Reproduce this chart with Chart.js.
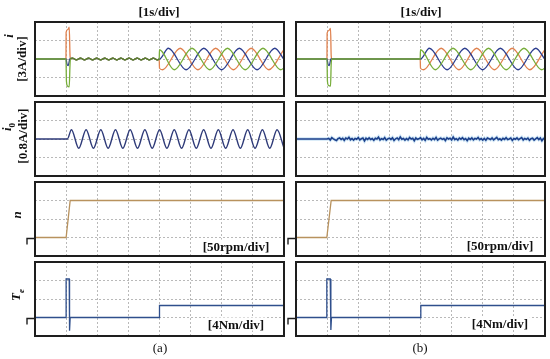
<!DOCTYPE html>
<html>
<head>
<meta charset="utf-8">
<script src="https://cdn.jsdelivr.net/npm/chart.js@4/dist/chart.umd.min.js"></script>
<style>
  body { margin: 0; background: #fff; width: 550px; height: 359px; position: relative; overflow: hidden;
         font-family: "Liberation Serif", "DejaVu Serif", serif; color: #111; }
  canvas { position: absolute; z-index: 1; }
  .lbl { position: absolute; z-index: 2; font-weight: bold; font-size: 13px; white-space: nowrap; transform: translate(-50%, -50%); }
  .rot { transform: translate(-50%, -50%) rotate(-90deg); }
  .cap { font-weight: normal; }
  .unit { background: #fff; padding: 0 2px; line-height: 13px; }
</style>
</head>
<body>
<div class="lbl" style="left:159px;top:12px">[1s/div]</div>
<div class="lbl" style="left:421px;top:12px">[1s/div]</div>

<div class="lbl rot" style="left:9px;top:36px"><i>i</i></div>
<div class="lbl rot" style="left:22px;top:59px">[3A/div]</div>
<div class="lbl rot" style="left:8px;top:127px"><i>i</i><sub style="font-size:9px">0</sub></div>
<div class="lbl rot" style="left:23px;top:136px">[0.8A/div]</div>
<div class="lbl rot" style="left:17px;top:215px"><i>n</i></div>
<div class="lbl rot" style="left:17px;top:295px"><i>T</i><sub style="font-size:9px"><i>e</i></sub></div>

<div class="lbl unit" style="left:236px;top:246px">[50rpm/div]</div>
<div class="lbl unit" style="left:500px;top:245px">[50rpm/div]</div>
<div class="lbl unit" style="left:236px;top:324px">[4Nm/div]</div>
<div class="lbl unit" style="left:500px;top:323px">[4Nm/div]</div>

<div class="lbl cap" style="left:160px;top:348px">(a)</div>
<div class="lbl cap" style="left:420px;top:348px">(b)</div>

<script>
// time axis: 8 div of 1 s, vertical: 4 div
const timeMin = 0, timeMax = 8;
const divMin = -2, divMax = 2;

// --- phase currents i (row 1), startup pulse
const spikeA_orange = [[0,0],[0.995,0],[1.0,1.45],[1.06,1.6],[1.1,1.72],[1.125,0.2],[1.14,0]];
const spikeA_green  = [[0,0],[0.995,0],[1.01,-1.2],[1.04,-1.45],[1.1,-1.5],[1.125,-0.3],[1.14,0]];
const spikeA_blue   = [[0,0],[0.995,0],[1.03,-0.3],[1.07,-0.35],[1.12,0]];
const spikeB_orange = [[0,0],[0.995,0],[1.0,1.4],[1.06,1.55],[1.11,1.66],[1.13,0.2],[1.15,0]];
const spikeB_green  = [[0,0],[0.995,0],[1.01,-1.2],[1.04,-1.42],[1.11,-1.46],[1.13,-0.3],[1.15,0]];
const spikeB_blue   = [[0,0],[0.995,0],[1.03,-0.3],[1.07,-0.35],[1.12,0]];

// small ripple in (a) before load
const rippleA = [[1.2,0.05],[1.33,-0.05],[1.46,0.05],[1.59,-0.05],[1.72,0.05],[1.85,-0.05],[1.98,0.05],
                 [2.11,-0.05],[2.24,0.05],[2.37,-0.05],[2.5,0.05],[2.63,-0.05],[2.76,0.05],[2.89,-0.05],
                 [3.02,0.05],[3.15,-0.05],[3.28,0.05],[3.41,-0.05],[3.54,0.05],[3.67,-0.05],[3.8,0.05],[3.93,-0.05]];

// three-phase currents after t = 4 s (peaks/troughs)
const phaseGreen  = [[3.99,0],[4.0,0.5],[4.475,-0.58],[5.045,0.58],[5.615,-0.58],[6.185,0.58],[6.755,-0.58],[7.325,0.58],[7.895,-0.58],[8.0,-0.49]];
const phaseBlue   = [[3.99,0],[4.0,0],[4.285,0.58],[4.855,-0.58],[5.425,0.58],[5.995,-0.58],[6.565,0.58],[7.135,-0.58],[7.705,0.58],[8.0,-0.03]];
const phaseOrange = [[3.99,0],[4.0,-0.5],[4.095,-0.58],[4.665,0.58],[5.235,-0.58],[5.805,0.58],[6.375,-0.58],[6.945,0.58],[7.515,-0.58],[8.0,0.52]];

// --- zero-sequence current i0 (row 2)
const i0A = [[0,0],[1.0,0],[1.04,0],[1.17,0.5],[1.406,-0.5],[1.642,0.5],[1.878,-0.5],[2.114,0.5],[2.35,-0.5],
             [2.586,0.5],[2.822,-0.5],[3.058,0.5],[3.294,-0.5],[3.53,0.5],[3.766,-0.5],[4.002,0.5],[4.238,-0.5],
             [4.474,0.5],[4.71,-0.5],[4.946,0.5],[5.182,-0.5],[5.418,0.5],[5.654,-0.5],[5.89,0.5],[6.126,-0.5],
             [6.362,0.5],[6.598,-0.5],[6.834,0.5],[7.07,-0.5],[7.306,0.5],[7.542,-0.5],[7.778,0.5],[8.0,-0.49]];
const i0B_start = 1.0, i0B_step = 0.05;
const i0B_noise = [
  0.03,-0.05,0.07,0.01,-0.04,-0.08,0.02,0.06,-0.02,0.04,
  -0.07,0.05,0.00,0.09,-0.04,0.02,-0.06,0.03,-0.01,0.08,
  -0.05,0.01,0.05,-0.10,0.04,-0.02,0.06,-0.03,0.02,-0.07,
  0.04,0.00,0.10,-0.05,0.02,-0.03,0.07,-0.06,0.01,0.05,
  -0.02,0.06,-0.08,0.01,0.05,-0.04,0.11,-0.01,0.03,-0.06,
  0.02,-0.05,0.08,0.00,0.04,-0.09,0.05,-0.02,0.01,0.07,
  -0.04,0.03,-0.07,0.09,-0.01,0.02,-0.05,0.04,-0.03,0.08,
  -0.06,0.01,0.05,-0.02,0.03,-0.08,0.06,0.00,0.04,-0.05,
  0.10,-0.03,0.02,-0.06,0.05,-0.01,0.07,-0.04,0.02,-0.09,
  0.04,-0.02,0.06,-0.05,0.03,0.00,0.08,-0.04,0.02,-0.06,
  0.03,-0.07,0.05,0.01,-0.03,0.06,-0.05,0.02,0.09,-0.04,
  0.01,-0.06,0.04,-0.02,0.07,-0.03,0.00,0.05,-0.08,0.03,
  -0.01,0.06,-0.04,0.02,0.08,-0.05,0.03,-0.02,0.05,-0.07,
  0.02,0.04,-0.06,0.01,0.07,-0.03,0.05,-0.09,0.03,-0.01
];

// --- speed n (row 3) and torque Te (row 4)
const speedA = [[0,-1],[1.0,-1],[1.13,1],[8,1]];
const speedB = [[0,-1],[0.99,-1],[1.13,1],[8,1]];
const torqueA = [[0,-1],[1.0,-1],[1.0,1.08],[1.1,1.08],[1.11,-1.72],[1.13,-1],[4.0,-1],[4.0,-0.35],[8,-0.35]];
const torqueB = [[0,-1],[0.99,-1],[0.99,1.08],[1.1,1.08],[1.12,-1.68],[1.14,-1],[4.01,-1],[4.01,-0.35],[8,-0.35]];
const groundLevel = -1;

const colX = [35, 296], colW = 249;
const rowY = [22, 102, 182, 262], rowH = 74;

const C = { orange: '#e0824f', green: '#77ad3a', blue: '#2d3e8f', ripple: '#5d7a33', i0: '#2e3a78',
            noise: '#1c3f8a', halo: '#cfe6f6', speed: '#b8925e', torque: '#2f4f8c' };

const pts = a => a.map(([x, y]) => ({ x, y }));
function line(data, color, smooth, width) {
  return { data: pts(data), borderColor: color, borderWidth: width || 1.3, pointRadius: 0,
           cubicInterpolationMode: smooth ? 'monotone' : 'default', tension: 0, fill: false };
}

const framePlugin = {
  id: 'frame',
  afterDraw(chart) {
    const { ctx, chartArea: a } = chart;
    ctx.save();
    ctx.strokeStyle = '#1e1e1e';
    ctx.lineWidth = 2;
    ctx.strokeRect(a.left, a.top, a.right - a.left, a.bottom - a.top);
    const g = chart.options.plugins.ground;
    if (g && g.value !== undefined) {
      const y = Math.round(chart.scales.y.getPixelForValue(g.value)) + 0.5;
      ctx.lineWidth = 1.4;
      ctx.beginPath();
      ctx.moveTo(a.left, y);
      ctx.lineTo(a.left - 8, y);
      ctx.lineTo(a.left - 8, y + 6);
      ctx.stroke();
    }
    ctx.restore();
  }
};

function panel(col, row, datasets, ground) {
  const pad = { left: 12, right: 6, top: 6, bottom: 6 };
  const c = document.createElement('canvas');
  const w = colW + pad.left + pad.right, h = rowH + pad.top + pad.bottom;
  c.width = w; c.height = h;
  c.style.left = (colX[col] - pad.left) + 'px';
  c.style.top = (rowY[row] - pad.top) + 'px';
  c.style.width = w + 'px'; c.style.height = h + 'px';
  document.body.appendChild(c);
  const grid = { color: '#b9b9b9', lineWidth: 1, drawTicks: false };
  const border = { display: false, dash: [2, 2] };
  new Chart(c, {
    type: 'line',
    data: { datasets },
    options: {
      responsive: false, animation: false, layout: { padding: pad },
      plugins: { legend: { display: false }, tooltip: { enabled: false }, ground: { value: ground } },
      scales: {
        x: { type: 'linear', min: timeMin, max: timeMax, ticks: { display: false, stepSize: 1 }, grid, border },
        y: { type: 'linear', min: divMin, max: divMax, ticks: { display: false, stepSize: 1 }, grid, border }
      }
    },
    plugins: [framePlugin]
  });
}

// row 1: phase currents (first dataset is drawn on top)
panel(0, 0, [
  line([[1.14, 0], ...rippleA, [3.99, 0]], C.ripple, true, 1.2),
  line([...spikeA_green, ...rippleA, ...phaseGreen], C.green, true),
  line([...spikeA_blue, ...rippleA, ...phaseBlue], C.blue, true),
  line([...spikeA_orange, ...rippleA, ...phaseOrange], C.orange, true)
]);
panel(1, 0, [
  line([...spikeB_green, ...phaseGreen], C.green, true),
  line([...spikeB_blue, ...phaseBlue], C.blue, true),
  line([...spikeB_orange, ...phaseOrange], C.orange, true)
]);

// row 2: zero-sequence current
panel(0, 1, [line(i0A, C.i0, true, 1.4)]);
const i0B = [[0, 0], [i0B_start, 0], ...i0B_noise.map((v, k) => [i0B_start + (k + 1) * i0B_step, v])];
panel(1, 1, [line(i0B, C.noise, false, 1.6), line(i0B, C.halo, false, 3.5)]);

// row 3: speed
panel(0, 2, [line(speedA, C.speed, false)], groundLevel);
panel(1, 2, [line(speedB, C.speed, false)], groundLevel);

// row 4: torque
panel(0, 3, [line(torqueA, C.torque, false)], groundLevel);
panel(1, 3, [line(torqueB, C.torque, false)], groundLevel);
</script>
</body>
</html>
